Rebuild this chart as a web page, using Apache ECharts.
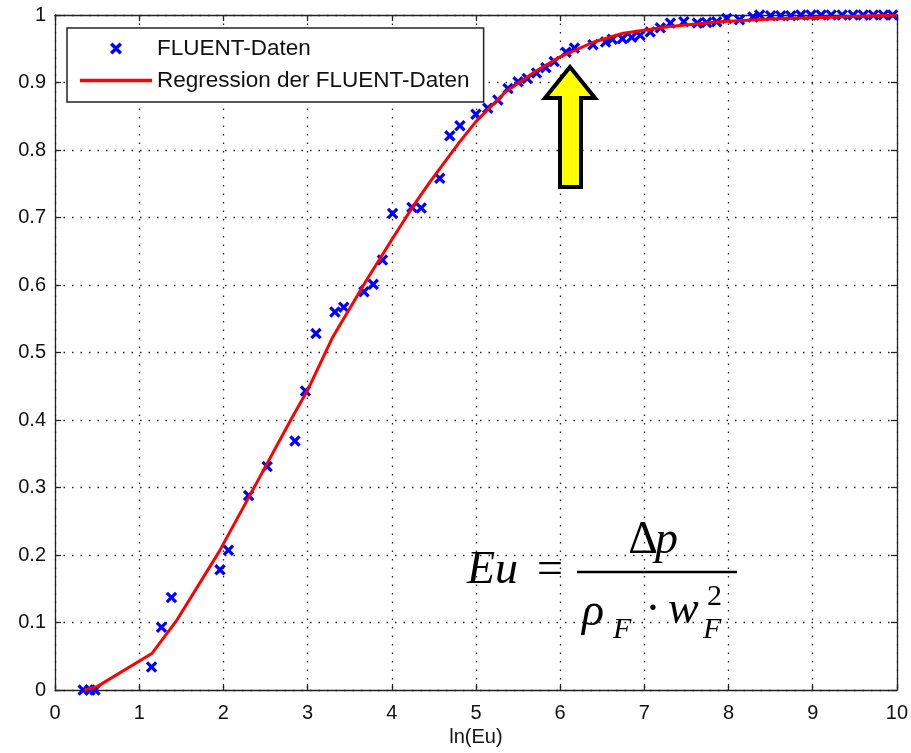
<!DOCTYPE html>
<html>
<head>
<meta charset="utf-8">
<script src="https://cdn.jsdelivr.net/npm/echarts@6/dist/echarts.min.js"></script>
<style>
html,body{margin:0;padding:0;background:#fff;}
#chart{width:911px;height:753px;}
</style>
</head>
<body>
<div id="chart"></div>
<script>
// FLUENT data points (ln(Eu), value)
const fluentX = [0.335,0.415,0.475,1.147,1.265,1.383,1.96,2.06,2.30,2.52,2.85,2.975,3.10,3.325,3.43,3.67,3.78,3.89,4.01,4.24,4.35,4.57,4.69,4.81,
  5.00,5.14,5.26,5.38,5.50,5.61,5.72,5.83,5.93,6.07,6.17,6.39,6.54,6.62,6.74,6.85,6.95,7.07,7.19,7.31,7.47,7.63,7.74,7.86,7.98,8.13,8.29,8.37,
  8.50,8.62,8.74,8.86,8.98,9.10,9.22,9.35,9.48,9.60,9.72,9.84,9.95];
const fluentY = [0,0,0,0.034,0.093,0.137,0.178,0.207,0.288,0.331,0.369,0.443,0.528,0.560,0.567,0.590,0.601,0.637,0.706,0.715,0.714,0.758,0.821,0.836,
  0.853,0.862,0.874,0.891,0.901,0.906,0.914,0.922,0.931,0.945,0.951,0.956,0.960,0.964,0.965,0.967,0.970,0.975,0.981,0.988,0.990,0.988,0.989,0.990,0.995,0.993,0.997,1.0,
  0.999,0.999,0.999,1.0,1.0,1.0,1.0,1.0,1.0,1.0,1.0,1.0,1.0];
// Regression curve
const regX = [0.35,0.5,1.15,1.45,1.95,2.3,2.8,3.0,3.3,3.7,4.0,4.25,4.45,4.8,5.0,5.35,5.7,6.0,6.4,6.75,7.3,7.9,8.5,9.3,10];
const regY = [0,0.005,0.054,0.104,0.205,0.285,0.40,0.444,0.523,0.607,0.667,0.716,0.752,0.811,0.842,0.886,0.916,0.938,0.960,0.973,0.983,0.990,0.994,0.997,1.0];
const seriesNames = ['FLUENT-Daten','Regression der FLUENT-Daten'];

const chart = echarts.init(document.getElementById('chart'));
const sans = 'Liberation Sans, Arial, sans-serif';
const serif = 'Liberation Serif, Times New Roman, serif';
const xMark = 'path://M2,0L5,3L8,0L10,2L7,5L10,8L8,10L5,7L2,10L0,8L3,5L0,2Z';
const gridLine = {show:true, lineStyle:{color:'#222', width:1.3, type:[1.5,7]}};
const axisLine = {show:true, onZero:false, lineStyle:{color:'#222', width:1.3}};
const tick = {show:true, inside:true, length:6, lineStyle:{color:'#222', width:1.3}};

chart.setOption({
  animation:false,
  backgroundColor:'#fff',
  grid:{left:55, right:10, top:15, bottom:63, containLabel:false},
  xAxis:[
    {type:'value', min:0, max:10, interval:1, position:'bottom',
     name:'ln(Eu)', nameLocation:'middle', nameGap:37,
     nameTextStyle:{fontFamily:sans, fontSize:20, color:'#111'},
     axisLine:axisLine, axisTick:tick, splitLine:gridLine,
     axisLabel:{fontFamily:sans, fontSize:20, color:'#111', margin:13}},
    {type:'value', min:0, max:10, interval:1, position:'top',
     axisLine:axisLine, axisTick:tick, splitLine:{show:false}, axisLabel:{show:false}}
  ],
  yAxis:[
    {type:'value', min:0, max:1, interval:0.1, position:'left',
     axisLine:axisLine, axisTick:tick, splitLine:gridLine,
     axisLabel:{fontFamily:sans, fontSize:20, color:'#111', margin:9,
       formatter:v=>String(Math.round(v*10)/10)}},
    {type:'value', min:0, max:1, interval:0.1, position:'right',
     axisLine:axisLine, axisTick:tick, splitLine:{show:false}, axisLabel:{show:false}}
  ],
  legend:{
    orient:'vertical', left:67, top:28,
    data:[{name:seriesNames[0]}, {name:seriesNames[1], icon:'path://M0,0H72V3.5H0Z'}],
    backgroundColor:'#fff', borderColor:'#222', borderWidth:1.5,
    padding:[9,14,10,13], itemGap:9, itemWidth:72, itemHeight:12,
    textStyle:{fontFamily:sans, fontSize:22.5, color:'#111'}
  },
  series:[
    {name:seriesNames[0], type:'scatter', symbol:xMark, symbolSize:11.5,
     itemStyle:{color:'#0000ff', opacity:1},
     data:fluentX.map((x,i)=>[x,fluentY[i]]), z:2},
    {name:seriesNames[1], type:'line', showSymbol:false, symbol:'none',
     lineStyle:{color:'#ff0000', width:3}, itemStyle:{color:'#ff0000'},
     data:regX.map((x,i)=>[x,regY[i]]), z:3}
  ],
  graphic:[
    {type:'polygon', z:100,
     shape:{points:[[570,67],[595,98],[581,98],[581,187],[560,187],[560,98],[545,98]]},
     style:{fill:'#ffff00', stroke:'#000', lineWidth:4, lineJoin:'miter'}},
    {type:'text', z:100, style:{text:'Eu', x:467, y:571, font:'italic 46px '+serif, fill:'#000', textAlign:'left', textVerticalAlign:'middle'}},
    {type:'text', z:100, style:{text:'=', x:550, y:571, font:'46px '+serif, fill:'#000', textAlign:'center', textVerticalAlign:'middle'}},
    {type:'line', z:100, shape:{x1:577, y1:572, x2:737, y2:572}, style:{stroke:'#000', lineWidth:2.5}},
    {type:'text', z:100, style:{text:'\u0394', x:643, y:541, font:'46px '+serif, fill:'#000', textAlign:'center', textVerticalAlign:'middle'}},
    {type:'text', z:100, style:{text:'p', x:655, y:541, font:'italic 46px '+serif, fill:'#000', textAlign:'left', textVerticalAlign:'middle'}},
    {type:'text', z:100, style:{text:'\u03c1', x:582, y:613, font:'italic 46px '+serif, fill:'#000', textAlign:'left', textVerticalAlign:'middle'}},
    {type:'text', z:100, style:{text:'F', x:613, y:630, font:'italic 30px '+serif, fill:'#000', textAlign:'left', textVerticalAlign:'middle'}},
    {type:'text', z:100, style:{text:'\u00b7', x:653, y:611, font:'46px '+serif, fill:'#000', textAlign:'center', textVerticalAlign:'middle'}},
    {type:'text', z:100, style:{text:'w', x:668, y:611, font:'italic 46px '+serif, fill:'#000', textAlign:'left', textVerticalAlign:'middle'}},
    {type:'text', z:100, style:{text:'2', x:707, y:597, font:'30px '+serif, fill:'#000', textAlign:'left', textVerticalAlign:'middle'}},
    {type:'text', z:100, style:{text:'F', x:703, y:630, font:'italic 30px '+serif, fill:'#000', textAlign:'left', textVerticalAlign:'middle'}}
  ]
});
</script>
</body>
</html>
